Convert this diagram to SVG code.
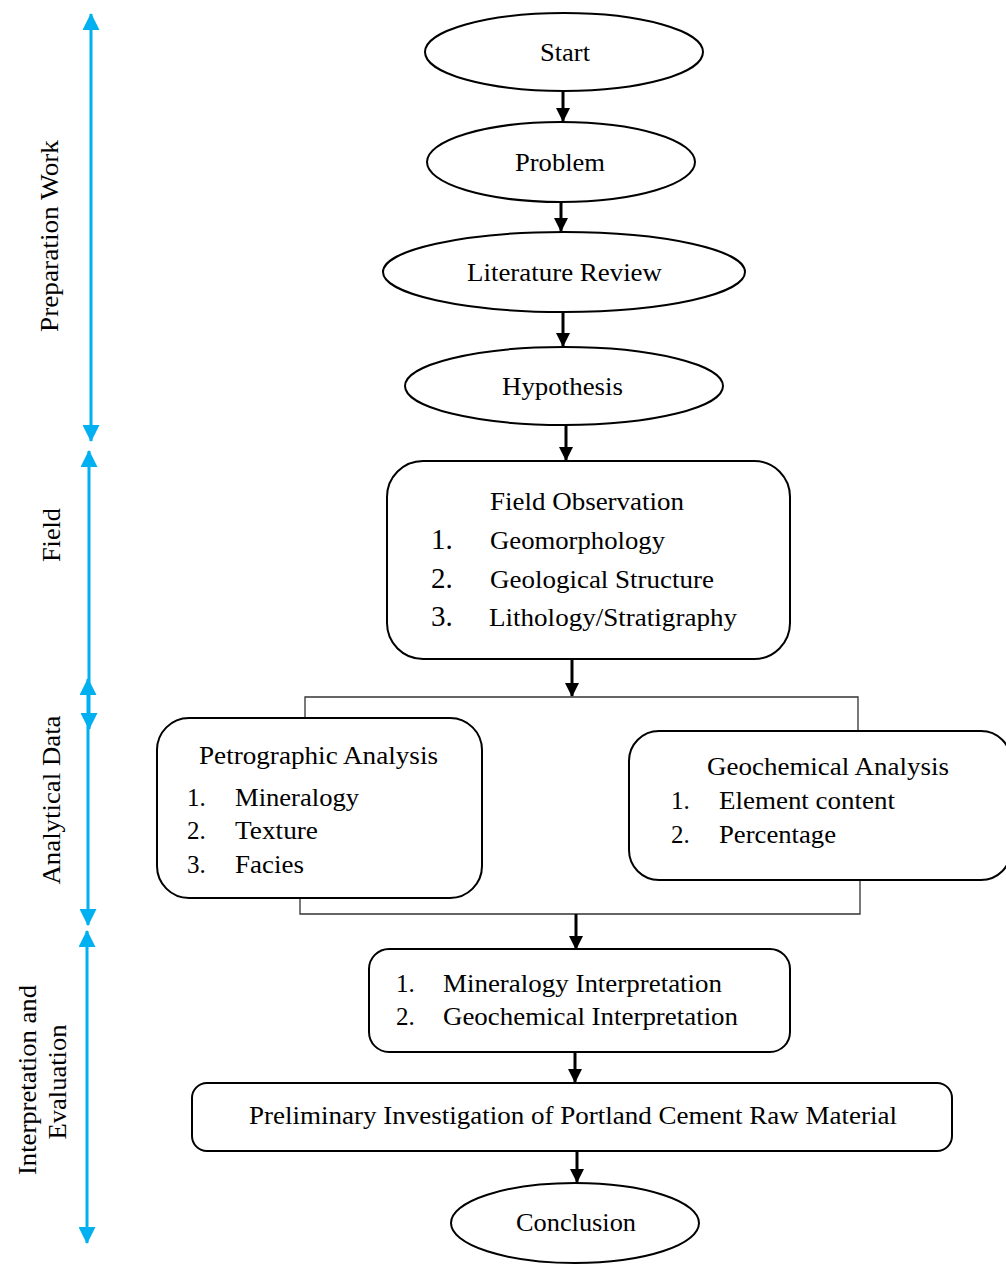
<svg xmlns="http://www.w3.org/2000/svg" width="1006" height="1264" viewBox="0 0 1006 1264">
<style>
text{font-family:"Liberation Serif","Times New Roman",serif;font-size:25px;fill:#000}
.c{text-anchor:middle}
.big{font-size:29px}
.sh{fill:#fff;stroke:#000;stroke-width:2}
.ar{stroke:#000;stroke-width:3;fill:none;marker-end:url(#ah)}
.br{stroke:#333;stroke-width:1.3;fill:none}
.bl{stroke:#00B0F0;stroke-width:3;fill:none;marker-start:url(#bh);marker-end:url(#bh)}
</style>
<defs>
<marker id="ah" viewBox="0 0 14 14" refX="13" refY="7" markerWidth="14" markerHeight="14" markerUnits="userSpaceOnUse" orient="auto"><path d="M0,0 L14,7 L0,14 z" fill="#000"/></marker>
<marker id="bh" viewBox="0 0 18 18" refX="17" refY="9" markerWidth="17" markerHeight="17" markerUnits="userSpaceOnUse" orient="auto-start-reverse"><path d="M0,0 L18,9 L0,18 z" fill="#00B0F0"/></marker>
</defs>
<rect width="1006" height="1264" fill="#fff"/>

<g id="connectors">
<line class="ar" x1="563" y1="92" x2="563" y2="121"/>
<line class="ar" x1="561" y1="202" x2="561" y2="231"/>
<line class="ar" x1="563" y1="312" x2="563" y2="346"/>
<line class="ar" x1="566" y1="425" x2="566" y2="460"/>
<line class="ar" x1="572" y1="660" x2="572" y2="696"/>
<polyline class="br" points="305,718 305,697 858,697 858,731"/>
<polyline class="br" points="300,898 300,914 860,914 860,880"/>
<line class="ar" x1="576" y1="914" x2="576" y2="949"/>
<line class="ar" x1="575" y1="1052" x2="575" y2="1082"/>
<line class="ar" x1="577" y1="1151" x2="577" y2="1182"/>
</g>

<g id="phases">
<line class="bl" x1="91" y1="14" x2="91" y2="441"/>
<line class="bl" x1="89" y1="451" x2="89" y2="729"/>
<line class="bl" x1="88" y1="679" x2="88" y2="925"/>
<line class="bl" x1="87" y1="931" x2="87" y2="1243"/>
<text class="c" transform="translate(58,236) rotate(-90)" textLength="192" lengthAdjust="spacingAndGlyphs">Preparation Work</text>
<text class="c" transform="translate(60,535) rotate(-90)" textLength="54" lengthAdjust="spacingAndGlyphs">Field</text>
<text class="c" transform="translate(60,800) rotate(-90)" textLength="169" lengthAdjust="spacingAndGlyphs">Analytical Data</text>
<text class="c" transform="translate(36,1080) rotate(-90)" textLength="190" lengthAdjust="spacingAndGlyphs">Interpretation and</text>
<text class="c" transform="translate(66,1082) rotate(-90)" textLength="115" lengthAdjust="spacingAndGlyphs">Evaluation</text>
</g>

<g id="start">
<ellipse class="sh" cx="564" cy="52" rx="139" ry="39"/>
<text x="540" y="61" textLength="50" lengthAdjust="spacingAndGlyphs">Start</text>
</g>
<g id="problem">
<ellipse class="sh" cx="561" cy="162" rx="134" ry="40"/>
<text x="515" y="171" textLength="90" lengthAdjust="spacingAndGlyphs">Problem</text>
</g>
<g id="literature">
<ellipse class="sh" cx="564" cy="272" rx="181" ry="40"/>
<text x="467" y="281" textLength="195" lengthAdjust="spacingAndGlyphs">Literature Review</text>
</g>
<g id="hypothesis">
<ellipse class="sh" cx="564" cy="386" rx="159" ry="39"/>
<text x="502" y="395" textLength="121" lengthAdjust="spacingAndGlyphs">Hypothesis</text>
</g>

<g id="field">
<rect class="sh" x="387" y="461" width="403" height="198" rx="36"/>
<text x="490" y="510" textLength="194" lengthAdjust="spacingAndGlyphs">Field Observation</text>
<text class="big" x="431" y="549">1.</text>
<text x="490" y="549" textLength="175" lengthAdjust="spacingAndGlyphs">Geomorphology</text>
<text class="big" x="431" y="588">2.</text>
<text x="490" y="588" textLength="224" lengthAdjust="spacingAndGlyphs">Geological Structure</text>
<text class="big" x="431" y="626">3.</text>
<text x="489" y="626" textLength="248" lengthAdjust="spacingAndGlyphs">Lithology/Stratigraphy</text>
</g>

<g id="petrographic">
<rect class="sh" x="157" y="718" width="325" height="180" rx="32"/>
<text x="199" y="764" textLength="239" lengthAdjust="spacingAndGlyphs">Petrographic Analysis</text>
<text x="187" y="806">1.</text>
<text x="235" y="806" textLength="124" lengthAdjust="spacingAndGlyphs">Mineralogy</text>
<text x="187" y="839">2.</text>
<text x="235" y="839" textLength="83" lengthAdjust="spacingAndGlyphs">Texture</text>
<text x="187" y="873">3.</text>
<text x="235" y="873" textLength="69" lengthAdjust="spacingAndGlyphs">Facies</text>
</g>

<g id="geochemical">
<rect class="sh" x="629" y="731" width="382" height="149" rx="30"/>
<text x="707" y="775" textLength="242" lengthAdjust="spacingAndGlyphs">Geochemical Analysis</text>
<text x="671" y="809">1.</text>
<text x="719" y="809" textLength="176" lengthAdjust="spacingAndGlyphs">Element content</text>
<text x="671" y="843">2.</text>
<text x="719" y="843" textLength="117" lengthAdjust="spacingAndGlyphs">Percentage</text>
</g>

<g id="interpretation">
<rect class="sh" x="369" y="949" width="421" height="103" rx="20"/>
<text x="396" y="992">1.</text>
<text x="443" y="992" textLength="279" lengthAdjust="spacingAndGlyphs">Mineralogy Interpretation</text>
<text x="396" y="1025">2.</text>
<text x="443" y="1025" textLength="295" lengthAdjust="spacingAndGlyphs">Geochemical Interpretation</text>
</g>

<g id="preliminary">
<rect class="sh" x="192" y="1083" width="760" height="68" rx="15"/>
<text x="249" y="1124" textLength="648" lengthAdjust="spacingAndGlyphs">Preliminary Investigation of Portland Cement Raw Material</text>
</g>

<g id="conclusion">
<ellipse class="sh" cx="575" cy="1223" rx="124" ry="40"/>
<text x="516" y="1231" textLength="120" lengthAdjust="spacingAndGlyphs">Conclusion</text>
</g>
</svg>
